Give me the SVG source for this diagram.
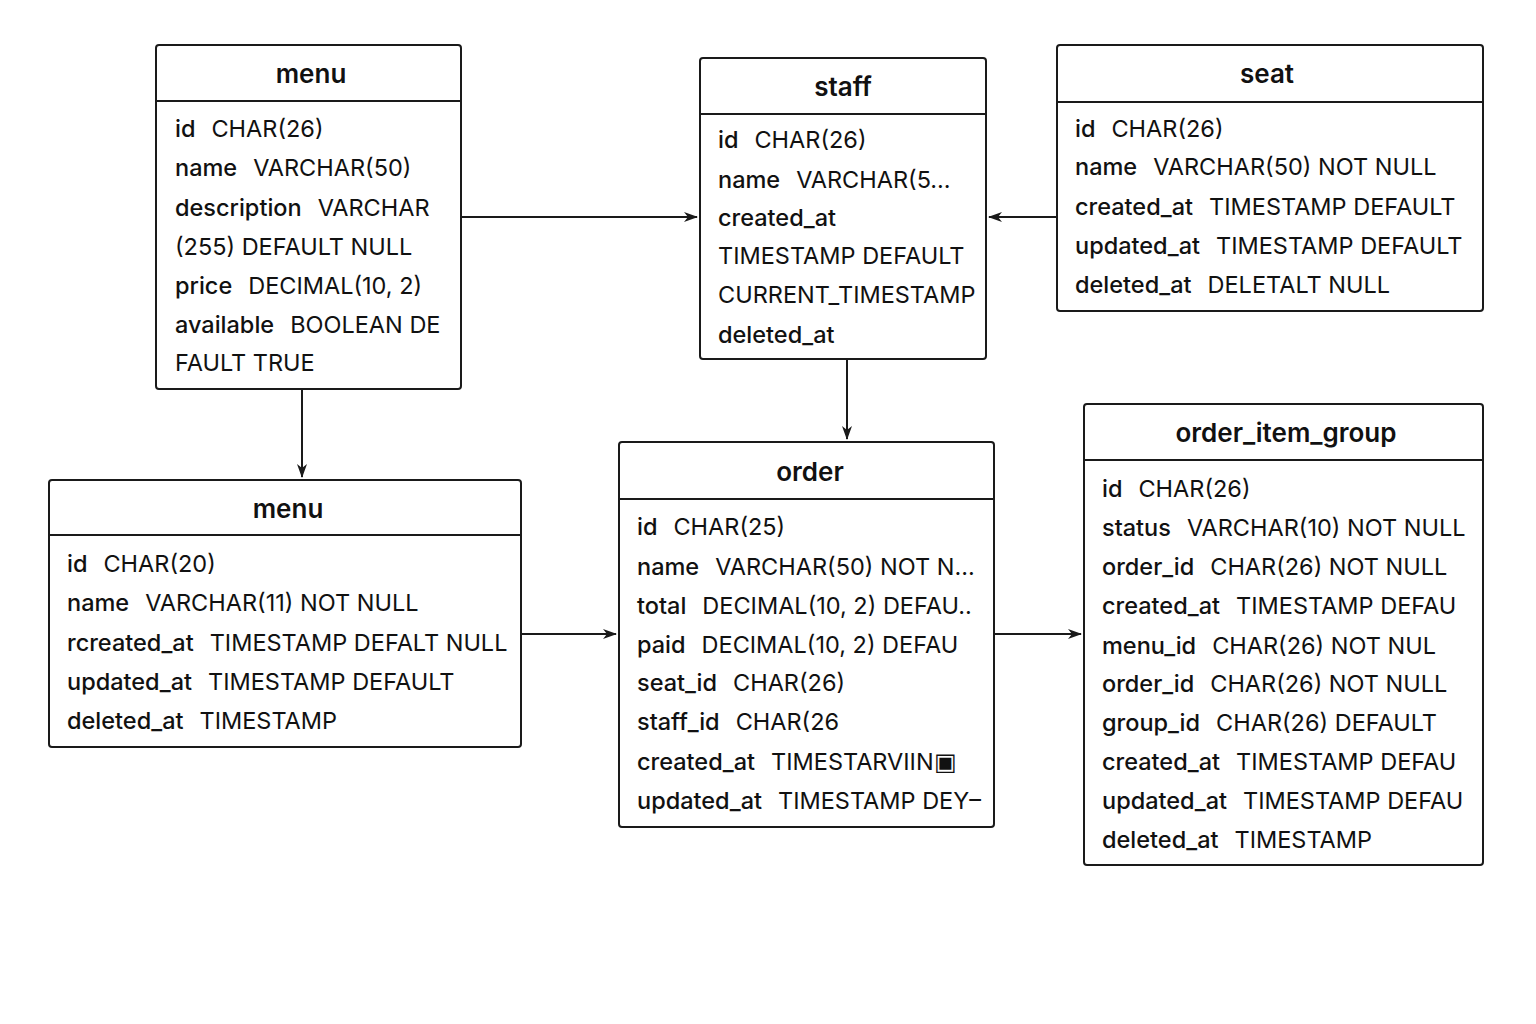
<svg xmlns="http://www.w3.org/2000/svg" width="1536" height="1024" viewBox="0 0 1536 1024">
<defs>
<style>
.box{fill:#fff;stroke:#1a1a1a;stroke-width:2}
.sep{stroke:#1a1a1a;stroke-width:2}
.title{font-family:Inter,"Noto Sans","Liberation Sans",sans-serif;font-size:26px;font-weight:600;fill:#111;text-anchor:middle}
.row{font-family:Inter,"Noto Sans","Liberation Sans",sans-serif;font-size:23.5px;fill:#111}
.k{font-weight:500}
.conn{stroke:#1a1a1a;stroke-width:2;fill:none}
</style>
<marker id="arr" viewBox="0 0 14 10" refX="13" refY="5" markerWidth="14" markerHeight="10" markerUnits="userSpaceOnUse" orient="auto">
<path d="M0,0 L14,5 L0,10 L4,5 z" fill="#1a1a1a"/>
</marker>
</defs>
<rect width="1536" height="1024" fill="#fff"/>

<g id="connectors">
<line class="conn" x1="462" y1="217" x2="697" y2="217" marker-end="url(#arr)"/>
<line class="conn" x1="1056" y1="217" x2="989" y2="217" marker-end="url(#arr)"/>
<line class="conn" x1="847" y1="360" x2="847" y2="439" marker-end="url(#arr)"/>
<line class="conn" x1="302" y1="390" x2="302" y2="477" marker-end="url(#arr)"/>
<line class="conn" x1="522" y1="634" x2="616" y2="634" marker-end="url(#arr)"/>
<line class="conn" x1="995" y1="634" x2="1081" y2="634" marker-end="url(#arr)"/>
</g>

<g id="menu-top">
<rect class="box" x="156" y="45" width="305" height="344" rx="3"/>
<line class="sep" x1="156" y1="101" x2="461" y2="101"/>
<text class="title" x="311" y="83">menu</text>
<text class="row" x="175" y="137"><tspan class="k">id</tspan><tspan dx="16">CHAR(26)</tspan></text>
<text class="row" x="175" y="176"><tspan class="k">name</tspan><tspan dx="16">VARCHAR(50)</tspan></text>
<text class="row" x="175" y="216"><tspan class="k">description</tspan><tspan dx="16">VARCHAR</tspan></text>
<text class="row" x="175" y="255">(255) DEFAULT NULL</text>
<text class="row" x="175" y="294"><tspan class="k">price</tspan><tspan dx="16">DECIMAL(10, 2)</tspan></text>
<text class="row" x="175" y="333"><tspan class="k">available</tspan><tspan dx="16">BOOLEAN DE</tspan></text>
<text class="row" x="175" y="371">FAULT TRUE</text>
</g>

<g id="staff">
<rect class="box" x="700" y="58" width="286" height="301" rx="3"/>
<line class="sep" x1="700" y1="114" x2="986" y2="114"/>
<text class="title" x="843" y="96">staff</text>
<text class="row" x="718" y="148"><tspan class="k">id</tspan><tspan dx="16">CHAR(26)</tspan></text>
<text class="row" x="718" y="188"><tspan class="k">name</tspan><tspan dx="16">VARCHAR(5...</tspan></text>
<text class="row" x="718" y="226"><tspan class="k">created_at</tspan></text>
<text class="row" x="718" y="264">TIMESTAMP DEFAULT</text>
<text class="row" x="718" y="303">CURRENT_TIMESTAMP</text>
<text class="row" x="718" y="343"><tspan class="k">deleted_at</tspan></text>
</g>

<g id="seat">
<rect class="box" x="1057" y="45" width="426" height="266" rx="3"/>
<line class="sep" x1="1057" y1="102" x2="1483" y2="102"/>
<text class="title" x="1267" y="83">seat</text>
<text class="row" x="1075" y="137"><tspan class="k">id</tspan><tspan dx="16">CHAR(26)</tspan></text>
<text class="row" x="1075" y="175"><tspan class="k">name</tspan><tspan dx="16">VARCHAR(50) NOT NULL</tspan></text>
<text class="row" x="1075" y="215"><tspan class="k">created_at</tspan><tspan dx="16">TIMESTAMP DEFAULT</tspan></text>
<text class="row" x="1075" y="254"><tspan class="k">updated_at</tspan><tspan dx="16">TIMESTAMP DEFAULT</tspan></text>
<text class="row" x="1075" y="293"><tspan class="k">deleted_at</tspan><tspan dx="16">DELETALT NULL</tspan></text>
</g>

<g id="menu-bottom">
<rect class="box" x="49" y="480" width="472" height="267" rx="3"/>
<line class="sep" x1="49" y1="535" x2="521" y2="535"/>
<text class="title" x="288" y="518">menu</text>
<text class="row" x="67" y="572"><tspan class="k">id</tspan><tspan dx="16">CHAR(20)</tspan></text>
<text class="row" x="67" y="611"><tspan class="k">name</tspan><tspan dx="16">VARCHAR(11) NOT NULL</tspan></text>
<text class="row" x="67" y="651"><tspan class="k">rcreated_at</tspan><tspan dx="16">TIMESTAMP DEFALT NULL</tspan></text>
<text class="row" x="67" y="690"><tspan class="k">updated_at</tspan><tspan dx="16">TIMESTAMP DEFAULT</tspan></text>
<text class="row" x="67" y="729"><tspan class="k">deleted_at</tspan><tspan dx="16">TIMESTAMP</tspan></text>
</g>

<g id="order">
<rect class="box" x="619" y="442" width="375" height="385" rx="3"/>
<line class="sep" x1="619" y1="499" x2="994" y2="499"/>
<text class="title" x="810" y="481">order</text>
<text class="row" x="637" y="535"><tspan class="k">id</tspan><tspan dx="16">CHAR(25)</tspan></text>
<text class="row" x="637" y="575"><tspan class="k">name</tspan><tspan dx="16">VARCHAR(50) NOT N...</tspan></text>
<text class="row" x="637" y="614"><tspan class="k">total</tspan><tspan dx="16">DECIMAL(10, 2) DEFAU..</tspan></text>
<text class="row" x="637" y="653"><tspan class="k">paid</tspan><tspan dx="16">DECIMAL(10, 2) DEFAU</tspan></text>
<text class="row" x="637" y="691"><tspan class="k">seat_id</tspan><tspan dx="16">CHAR(26)</tspan></text>
<text class="row" x="637" y="730"><tspan class="k">staff_id</tspan><tspan dx="16">CHAR(26</tspan></text>
<text class="row" x="637" y="770"><tspan class="k">created_at</tspan><tspan dx="16">TIMESTARVIIN▣</tspan></text>
<text class="row" x="637" y="809"><tspan class="k">updated_at</tspan><tspan dx="16">TIMESTAMP DEY–</tspan></text>
</g>

<g id="order_item_group">
<rect class="box" x="1084" y="404" width="399" height="461" rx="3"/>
<line class="sep" x1="1084" y1="460" x2="1483" y2="460"/>
<text class="title" x="1286" y="442">order_item_group</text>
<text class="row" x="1102" y="497"><tspan class="k">id</tspan><tspan dx="16">CHAR(26)</tspan></text>
<text class="row" x="1102" y="536"><tspan class="k">status</tspan><tspan dx="16">VARCHAR(10) NOT NULL</tspan></text>
<text class="row" x="1102" y="575"><tspan class="k">order_id</tspan><tspan dx="16">CHAR(26) NOT NULL</tspan></text>
<text class="row" x="1102" y="614"><tspan class="k">created_at</tspan><tspan dx="16">TIMESTAMP DEFAU</tspan></text>
<text class="row" x="1102" y="654"><tspan class="k">menu_id</tspan><tspan dx="16">CHAR(26) NOT NUL</tspan></text>
<text class="row" x="1102" y="692"><tspan class="k">order_id</tspan><tspan dx="16">CHAR(26) NOT NULL</tspan></text>
<text class="row" x="1102" y="731"><tspan class="k">group_id</tspan><tspan dx="16">CHAR(26) DEFAULT</tspan></text>
<text class="row" x="1102" y="770"><tspan class="k">created_at</tspan><tspan dx="16">TIMESTAMP DEFAU</tspan></text>
<text class="row" x="1102" y="809"><tspan class="k">updated_at</tspan><tspan dx="16">TIMESTAMP DEFAU</tspan></text>
<text class="row" x="1102" y="848"><tspan class="k">deleted_at</tspan><tspan dx="16">TIMESTAMP</tspan></text>
</g>
</svg>
